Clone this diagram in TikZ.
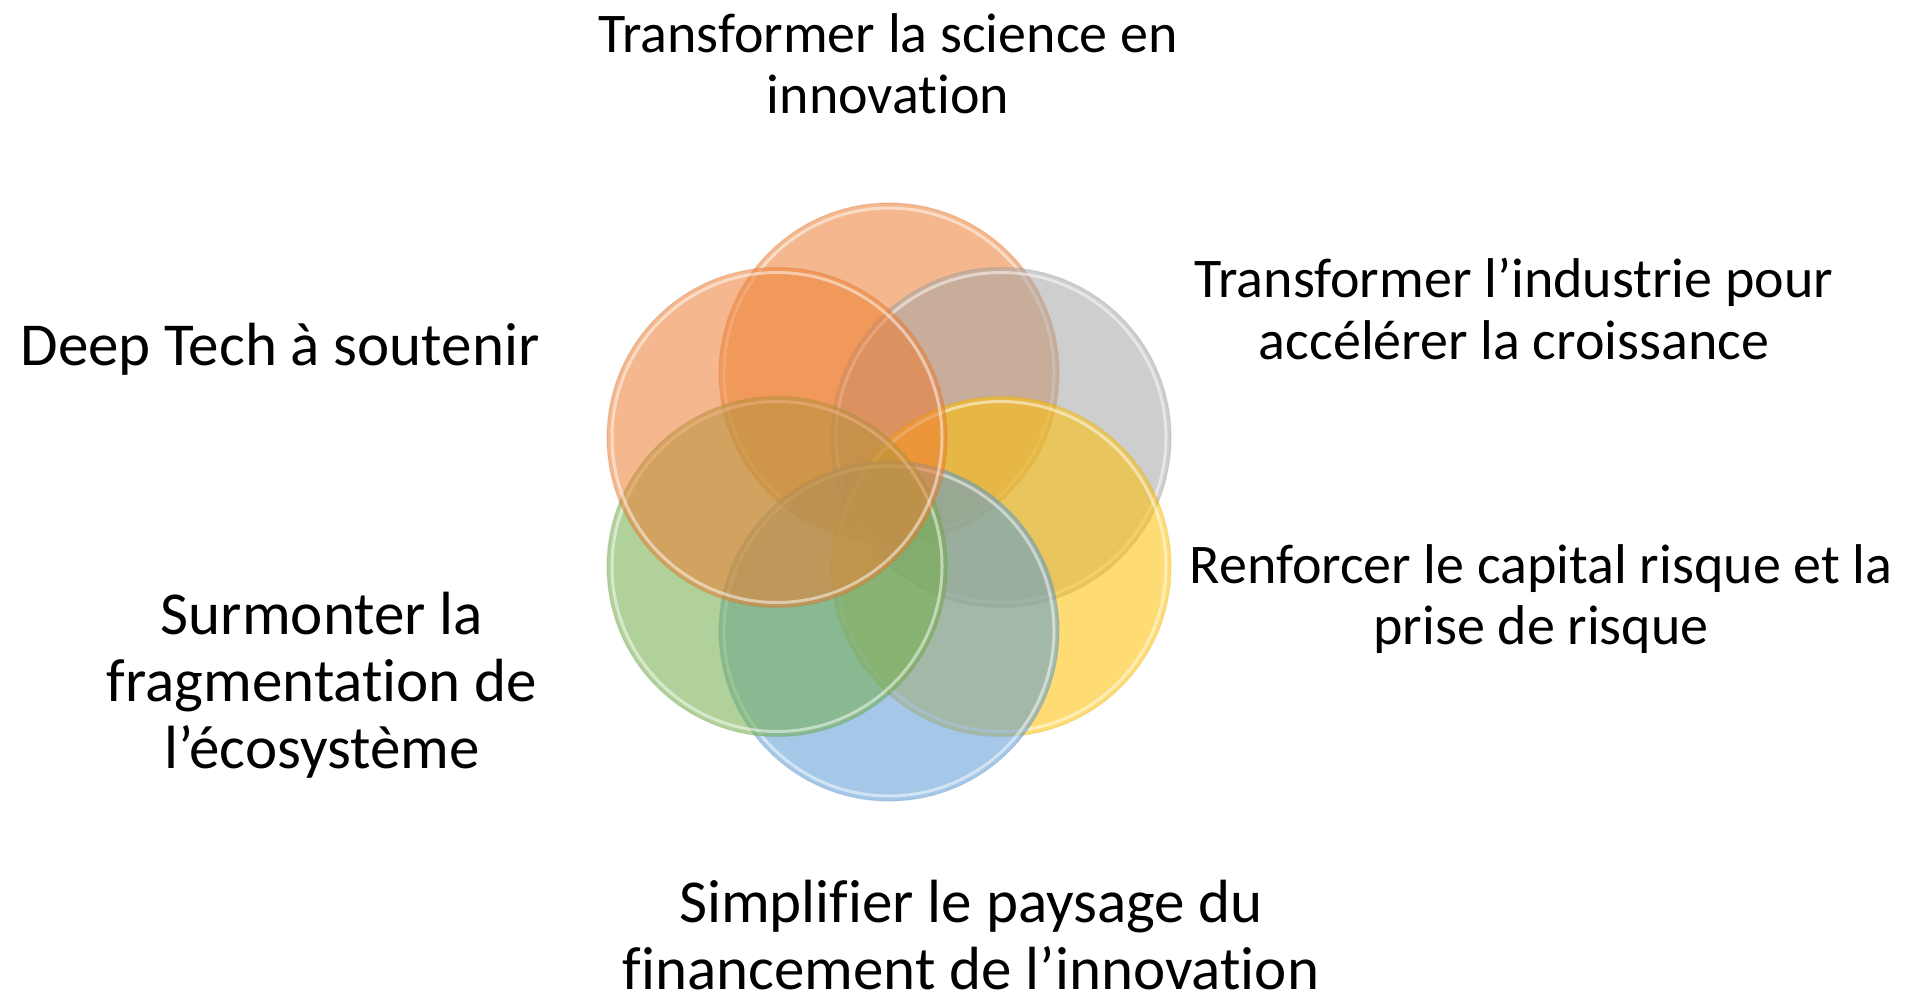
\documentclass[tikz,border=0pt]{standalone}
\usepackage{fontspec}
\setmainfont[Ligatures=NoCommon]{Carlito}
\usetikzlibrary{shapes.geometric}
\definecolor{cOrange}{HTML}{ED7D31}
\definecolor{cGray}{HTML}{A5A5A5}
\definecolor{cYellow}{HTML}{FFC000}
\definecolor{cBlue}{HTML}{5B9BD5}
\definecolor{cGreen}{HTML}{70AD47}
\tikzset{
  disc/.style={circle, minimum size=340pt, inner sep=0pt,
    fill=#1, fill opacity=0.55, draw=#1!80!black, draw opacity=0.2, line width=1.2pt},
  rim/.style={draw=white, draw opacity=0.5, line width=3pt},
  lblA/.style={align=center, font=\fontsize{56}{61.5}\selectfont, inner sep=0pt},
  lblB/.style={align=center, font=\fontsize{61}{67}\selectfont, inner sep=0pt},
}
\begin{document}
\begin{tikzpicture}[x=1pt,y=-1pt]
\useasboundingbox (0,0) rectangle (1908,1000);
% circles, drawn in order
\node[disc=cOrange] (c1) at (889,373) {};
\draw[rim] (c1.center) circle [radius=165pt];
\node[disc=cGray] (c2) at (1001,437.5) {};
\draw[rim] (c2.center) circle [radius=165pt];
\node[disc=cYellow] (c3) at (1001,566.5) {};
\draw[rim] (c3.center) circle [radius=165pt];
\node[disc=cBlue] (c4) at (889,631) {};
\draw[rim] (c4.center) circle [radius=165pt];
\node[disc=cGreen] (c5) at (777,566.5) {};
\draw[rim] (c5.center) circle [radius=165pt];
\node[disc=cOrange] (c6) at (777,437.5) {};
\draw[rim] (c6.center) circle [radius=165pt];
% labels
\node[lblA] (t1) at (888,64) {Transformer la science en\\innovation};
\node[lblA] (t2) at (1514,309) {Transformer l’industrie pour\\accélérer la croissance};
\node[lblA] (t3) at (1541,599) {Renforcer le capital risque et la\\prise de risque};
\node[lblB] (t4) at (971,935) {Simplifier le paysage du\\financement de l’innovation};
\node[lblB] (t5) at (322,685) {Surmonter la\\fragmentation de\\l’écosystème};
\node[lblB] (t6) at (280,349) {Deep Tech à soutenir};
\end{tikzpicture}
\end{document}
